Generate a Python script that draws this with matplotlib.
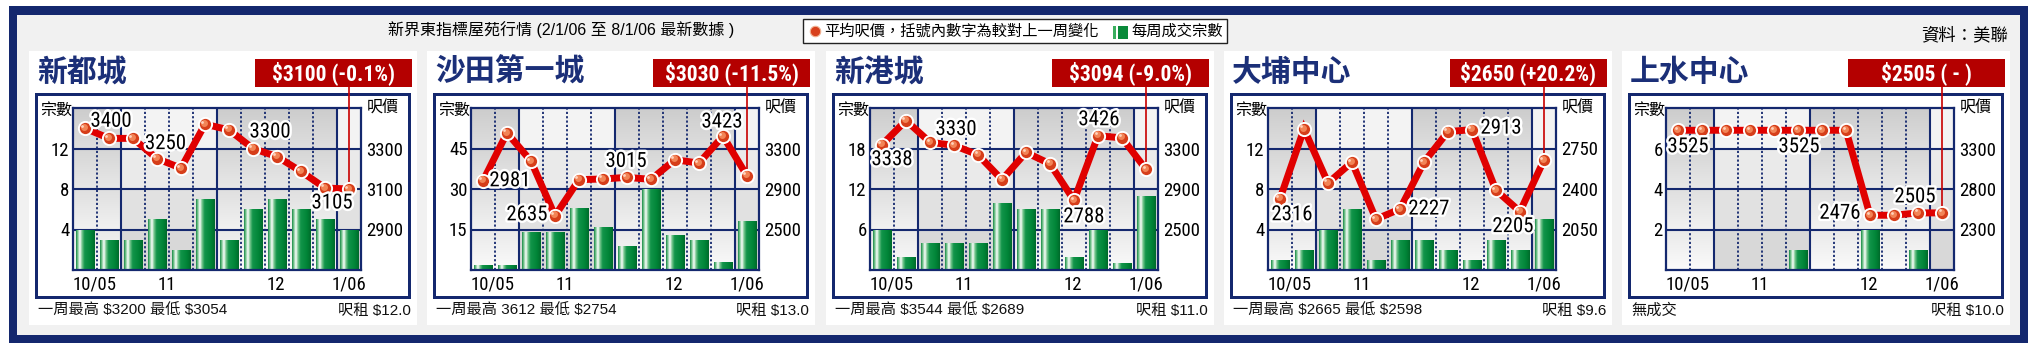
import numpy as np
import matplotlib
matplotlib.use('Agg')
import matplotlib.pyplot as plt
from matplotlib import font_manager
from matplotlib.font_manager import FontProperties
from matplotlib.patches import Rectangle
from matplotlib.colors import LinearSegmentedColormap
import matplotlib.patheffects as pe
import matplotlib.transforms as mtransforms

W, H = 2033, 356
DPI = 100

CJK = 'Noto Sans CJK TC'
LAT = 'Liberation Sans'
plt.rcParams['font.family'] = [LAT, CJK, 'DejaVu Sans']


def find_narrow(bold):
    pri = ['liberation sans narrow', 'roboto condensed', 'open sans condensed',
           'noto sans condensed', 'dejavu sans condensed', 'dejavu sans', 'roboto',
           'open sans', 'noto sans', 'lato', 'inter']
    best = None
    for f in font_manager.fontManager.ttflist:
        fn = f.fname.lower()
        nm = f.name.lower()
        st = str(f.stretch).lower()
        cond = ('narrow' in fn or 'condensed' in fn or 'narrow' in nm
                or 'condensed' in nm or 'condensed' in st)
        if not cond or 'mono' in fn or 'serif' in fn or 'cjk' in fn or 'italic' in fn \
                or 'oblique' in fn:
            continue
        w = f.weight
        isbold = (w in ('bold', 'heavy', 'black') or (isinstance(w, int) and w >= 600)
                  or 'bold' in fn)
        if 'extracondensed' in fn.replace('-', '').replace(' ', ''):
            continue
        if isbold != bold:
            continue
        key = nm
        if 'condensed' in fn and 'condensed' not in key:
            key = key + ' condensed'
        rank = len(pri)
        for i, p in enumerate(pri):
            if key.startswith(p):
                rank = i
                break
        if best is None or rank < best[0]:
            best = (rank, f.fname)
    return best[1] if best else None


NAR_REG = find_narrow(False)
NAR_BOLD = find_narrow(True)
SCALE = 1.0 if NAR_REG else 0.84


def fp_reg(size):
    if NAR_REG:
        return FontProperties(fname=NAR_REG, size=size)
    return FontProperties(family=LAT, size=size * SCALE)


def fp_bold(size):
    if NAR_BOLD:
        return FontProperties(fname=NAR_BOLD, size=size)
    return FontProperties(family=LAT, weight='bold', size=size * 0.84)


# ---------------- data ----------------
estates = ['新都城', '沙田第一城', '新港城', '大埔中心', '上水中心']
week_months = ['10', '10', '11', '11', '11', '11', '12', '12', '12', '12', '12', '1']
month_labels = ['10/05', '11', '12', '1/06']

counts_1 = [4, 3, 3, 5, 2, 7, 3, 6, 7, 6, 5, 4]
counts_2 = [2, 2, 14, 14, 23, 16, 9, 30, 13, 11, 3, 18]
counts_3 = [6, 2, 4, 4, 4, 10, 9, 9, 2, 6, 1, 11]
counts_4 = [1, 2, 4, 6, 1, 3, 3, 2, 1, 3, 2, 5]
counts_5 = [0, 0, 0, 0, 0, 1, 0, 0, 2, 0, 1, 0]

price_1 = [3400, 3350, 3350, 3250, 3203, 3420, 3392, 3300, 3260, 3187, 3105, 3100]
price_2 = [2981, 3454, 3176, 2635, 2992, 2999, 3015, 2995, 3189, 3156, 3423, 3030]
price_3 = [3338, 3576, 3362, 3330, 3238, 2992, 3261, 3149, 2788, 3426, 3405, 3094]
price_4 = [2316, 2919, 2452, 2632, 2139, 2227, 2632, 2896, 2913, 2389, 2205, 2650]
price_5 = [3525, 3525, 3525, 3525, 3525, 3525, 3525, 3525, 2476, 2476, 2505, 2505]

count_ticks = [[4, 8, 12], [15, 30, 45], [6, 12, 18], [4, 8, 12], [2, 4, 6]]
price_ticks = [[2900, 3100, 3300], [2500, 2900, 3300], [2500, 2900, 3300],
               [2050, 2400, 2750], [2300, 2800, 3300]]

labeled_idx = [[0, 3, 7, 10], [0, 3, 6, 10], [0, 3, 8, 9], [0, 8, 5, 10], [0, 5, 8, 10]]
changes = ['-0.1%', '-11.5%', '-9.0%', '+20.2%', ' - ']
week_range = ['一周最高 $3200 最低 $3054', '一周最高 3612 最低 $2754',
              '一周最高 $3544 最低 $2689', '一周最高 $2665 最低 $2598', '無成交']
rents = [12.0, 13.0, 11.0, 9.6, 10.0]

title = '新界東指標屋苑行情 (2/1/06 至 8/1/06 最新數據 )'
legend_price = '平均呎價，括號內數字為較對上一周變化'
legend_count = '每周成交宗數'
source = '資料：美聯'

counts_all = [counts_1, counts_2, counts_3, counts_4, counts_5]
prices_all = [price_1, price_2, price_3, price_4, price_5]


def esc(s):
    return s.replace('$', r'\$')


# ---------------- styling / layout ----------------
NAVY = '#14286e'
TNAVY = '#1b2f78'
RED = '#e00000'
BOXRED = '#b40000'
month_label_pos = [0.4, 3.4, 7.95, 11.0]
PANEL_L = [29, 427, 826, 1224, 1622]
label_off = [  # label centre offsets in px (dx, dy down)
    [(26, -7), (8.5, -15), (17, -16.5), (7, 15)],
    [(27, 0), (-28, -1), (-1, -16), (-1, -14)],
    [(10, 15), (2, -16), (10, 16.5), (1, -16)],
    [(12, 16), (29, -1.5), (29, 0), (-7, 15)],
    [(10, 16.5), (1, 16.5), (-30, -2), (-3, -16)],
]

fig = plt.figure(figsize=(W / DPI, H / DPI), dpi=DPI)
fig.patch.set_facecolor('white')
bg = fig.add_axes([0, 0, 1, 1], zorder=0)
bg.set_xlim(0, W)
bg.set_ylim(H, 0)
bg.axis('off')


def rect(x0, y0, x1, y1, **kw):
    kw.setdefault('linewidth', 0)
    bg.add_patch(Rectangle((x0, y0), x1 - x0, y1 - y0, **kw))


rect(9, 6, 2028, 343, facecolor=NAVY)
rect(17, 15, 2020, 335, facecolor='#f1f1f1')

# title, legend, source
bg.text(388, 30, title, fontsize=11.5, family=[LAT, CJK], ha='left', va='center')
rect(803, 19, 1227, 43, facecolor='white', edgecolor='#222222', linewidth=1)
bg.plot([815], [31], 'o', ms=7.5, mfc='#d8401c', mec='#f0b090', mew=0.8)
bg.text(824, 31, legend_price, fontsize=11, family=[CJK], ha='left', va='center')
rect(1113, 26, 1116, 39, facecolor='#3aae5e')
rect(1118, 26, 1128, 39, facecolor='#0a8a3a')
bg.text(1131, 31, legend_count, fontsize=11, family=[CJK], ha='left', va='center')
bg.text(2008, 35, source, fontsize=12.5, family=[CJK], ha='right', va='center')

bar_cmap = LinearSegmentedColormap.from_list('bar', [
    (0, '#1a8c46'), (0.1, '#86cc9b'), (0.2, '#ffffff'), (0.32, '#74c58c'),
    (0.45, '#12954a'), (0.8, '#008437'), (1, '#006a2b')])
grad = np.linspace(0, 1, 64)[None, :]

x = np.arange(len(week_months))

for k in range(5):
    L = PANEL_L[k]
    counts = counts_all[k]
    prices = prices_all[k]
    ct = count_ticks[k]
    pt = price_ticks[k]
    cstep = ct[1] - ct[0]
    pstep = pt[1] - pt[0]
    cmax = ct[-1] + cstep
    pmin, pmax = pt[0] - pstep, pt[-1] + pstep

    # panel background + frame
    rect(L, 51, L + 388, 325, facecolor='white')
    rect(L + 6, 93, L + 382, 299, facecolor=NAVY)
    rect(L + 9, 96, L + 379, 296, facecolor='white')
    rect(L + 226, 59, L + 383, 87, facecolor=BOXRED)
    bg.text(L + 8, 72, estates[k], fontsize=21.5, fontweight='heavy', color=TNAVY,
            family=[CJK], ha='left', va='center')
    bg.text(L + 304.5, 73.5, esc(f'${prices[-1]} ({changes[k]})'),
            fontproperties=fp_bold(15.5), color='white', ha='center', va='center')
    bg.text(L + 11, 110, '宗數', fontsize=11.5, family=[CJK], ha='left', va='center')
    bg.text(L + 338, 108, '呎價', fontsize=11.5, family=[CJK], ha='left', va='center')
    bg.text(L + 9, 311, esc(week_range[k]), fontsize=11, family=[LAT, CJK], ha='left',
            va='center', color='#111111')
    bg.text(L + 382, 311, esc(f'呎租 ${rents[k]:.1f}'), fontsize=11, family=[LAT, CJK],
            ha='right', va='center', color='#111111')

    ax = fig.add_axes([(L + 44) / W, 1 - 270 / H, 288 / W, 162 / H], zorder=2)

    # month shading background
    groups = []
    g = 0
    for i, m in enumerate(week_months):
        if i > 0 and m != week_months[i - 1]:
            g += 1
        groups.append(g)
    nrows = 400
    t = np.linspace(1, 0, nrows)[:, None]
    f = (t * 4) % 1.0
    img = np.zeros((nrows, len(week_months)))
    for i, gi in enumerate(groups):
        if gi % 2 == 0:
            img[:, i] = (0.985 - 0.15 * t - 0.035 * f)[:, 0]
        else:
            img[:, i] = (0.85 + 0.14 * t - 0.035 * f)[:, 0]
    img = np.clip(img, 0, 1)
    ax.imshow(np.dstack([img, img, img]), extent=(-0.5, len(x) - 0.5, 0, cmax),
              aspect='auto', interpolation='nearest', zorder=0)

    # grid
    for v in ct:
        ax.axhline(v, color=NAVY, lw=1.5, zorder=1)
    for i in range(len(x) - 1):
        if week_months[i] != week_months[i + 1]:
            ax.axvline(i + 0.5, color=NAVY, lw=1.5, zorder=1)
        else:
            ax.axvline(i + 0.5, color=NAVY, lw=1.3, ls=(0, (1.2, 1.2)), zorder=1)

    bars = ax.bar(x, counts, width=0.78, color='#008a3c', zorder=2)
    for p in bars.patches:
        if p.get_height() <= 0:
            continue
        x0, w, h = p.get_x(), p.get_width(), p.get_height()
        im = ax.imshow(grad, cmap=bar_cmap, extent=(x0, x0 + w, 0, h), aspect='auto',
                       interpolation='bilinear', zorder=2.5)
        im.set_clip_path(p)

    ax.set_xlim(-0.5, len(x) - 0.5)
    ax.set_ylim(0, cmax)
    ax.set_yticks(ct)
    ax.set_yticklabels([str(v) for v in ct], fontproperties=fp_reg(13.5))
    ax.set_xticks(month_label_pos)
    ax.set_xticklabels(month_labels, fontproperties=fp_reg(13.5))
    ax.tick_params(axis='both', length=0)
    ax.tick_params(axis='y', pad=2.5)
    ax.tick_params(axis='x', pad=4)
    for s in ax.spines.values():
        s.set_color(NAVY)
        s.set_linewidth(1.6)
        s.set_zorder(3)

    ax2 = ax.twinx()
    ax2.set_zorder(3)
    ax2.set_ylim(pmin, pmax)
    ax2.set_yticks(pt)
    ax2.set_yticklabels([str(v) for v in pt], fontproperties=fp_reg(13.5))
    ax2.tick_params(axis='y', length=0, pad=4)
    for s in ax2.spines.values():
        s.set_visible(False)

    ax2.annotate('', xy=(x[-1], prices[-1]), xycoords='data',
                 xytext=(x[-1], 1 - 87 / H), textcoords=('data', 'figure fraction'),
                 arrowprops=dict(arrowstyle='-', color='#c80000', lw=1.2,
                                 shrinkA=0, shrinkB=0),
                 annotation_clip=False, zorder=4)
    ax2.plot(x, prices, '-', color=RED, lw=5, solid_joinstyle='miter',
             solid_capstyle='butt', zorder=5)
    ax2.plot(x, prices, 'o', ms=9.5, mfc='#d63e1a', mec='white', mew=1.4, zorder=6)
    off1 = ax2.transData + mtransforms.ScaledTranslation(-1.0 / 72, 1.0 / 72,
                                                          fig.dpi_scale_trans)
    ax2.plot(x, prices, 'o', ms=5, mfc='#f28456', mec='none', zorder=6.1,
             transform=off1)
    off2 = ax2.transData + mtransforms.ScaledTranslation(-1.8 / 72, 1.8 / 72,
                                                          fig.dpi_scale_trans)
    ax2.plot(x, prices, 'o', ms=2, mfc='#ffd2bc', mec='none', zorder=6.2,
             transform=off2)

    for j, idx in enumerate(labeled_idx[k]):
        dx, dy = label_off[k][j]
        ax2.annotate(f'{prices[idx]}', xy=(x[idx], prices[idx]),
                     xytext=(dx * 0.72, -dy * 0.72), textcoords='offset points',
                     ha='center', va='center', fontproperties=fp_reg(15),
                     zorder=7,
                     path_effects=[pe.withStroke(linewidth=3.5, foreground='white')])

fig.savefig('out.png', dpi=DPI)
